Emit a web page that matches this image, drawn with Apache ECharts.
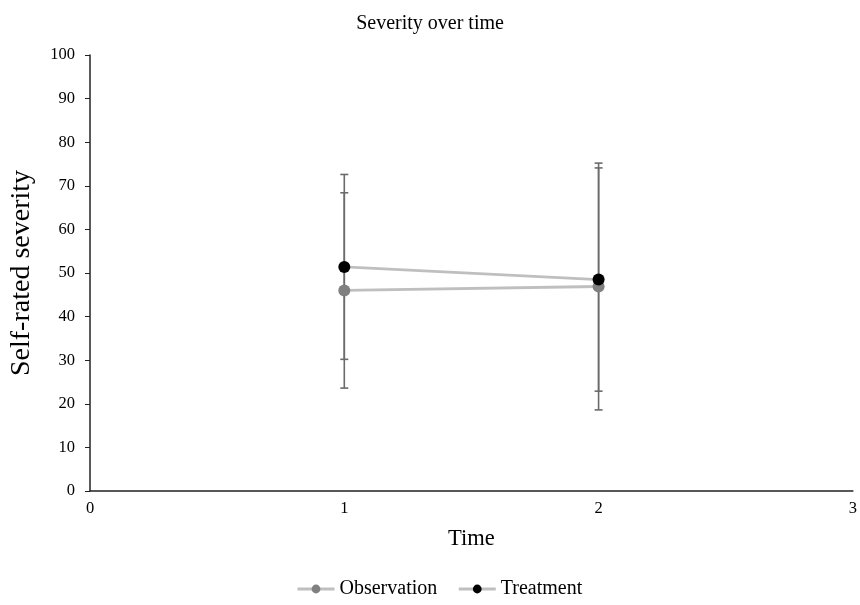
<!DOCTYPE html>
<html>
<head>
<meta charset="utf-8">
<script src="https://cdn.jsdelivr.net/npm/echarts@6/dist/echarts.min.js"></script>
<style>html,body{margin:0;padding:0;background:#fff;overflow:hidden;}#c{width:860px;height:605px;}</style>
</head>
<body>
<div id="c"></div>
<script>
var times = [1, 2];
var observation = [46.0, 46.9];
var observationErr = [22.4, 28.3];
var treatment = [51.4, 48.5];
var treatmentErr = [21.2, 25.6];
var xTicks = [0, 1, 2, 3];
var yTicks = [0, 10, 20, 30, 40, 50, 60, 70, 80, 90, 100];

var FONT = '"Liberation Serif", "Times New Roman", serif';

function errData(vals, errs) {
  return times.map(function (t, i) { return [t, vals[i] - errs[i], vals[i] + errs[i]]; });
}
function errSeries(vals, errs) {
  return {
    type: 'custom',
    silent: true,
    z: 1,
    data: errData(vals, errs),
    encode: { x: 0, y: [1, 2] },
    renderItem: function (params, api) {
      var x = api.value(0);
      var lo = api.coord([x, api.value(1)]);
      var hi = api.coord([x, api.value(2)]);
      var w = 4;
      var st = { stroke: '#6b6b6b', lineWidth: 1.6 };
      return {
        type: 'group',
        children: [
          { type: 'line', shape: { x1: lo[0], y1: lo[1], x2: hi[0], y2: hi[1] }, style: st },
          { type: 'line', shape: { x1: lo[0] - w, y1: lo[1], x2: lo[0] + w, y2: lo[1] }, style: st },
          { type: 'line', shape: { x1: hi[0] - w, y1: hi[1], x2: hi[0] + w, y2: hi[1] }, style: st }
        ]
      };
    }
  };
}

var chart = echarts.init(document.getElementById('c'), null, { renderer: 'canvas', width: 860, height: 605 });
chart.setOption({
  animation: false,
  backgroundColor: '#ffffff',
  textStyle: { fontFamily: FONT },
  title: {
    text: 'Severity over time',
    left: 'center',
    top: 9,
    textStyle: { fontFamily: FONT, fontSize: 20, fontWeight: 'normal', color: '#000' }
  },
  legend: {
    bottom: 1,
    left: 291,
    itemWidth: 37,
    itemHeight: 11,
    itemGap: 20,
    data: ['Observation', 'Treatment'],
    lineStyle: { width: 3, color: '#bfbfbf' },
    textStyle: { fontFamily: FONT, fontSize: 20, color: '#000' }
  },
  grid: { left: 89, width: 769, top: 55, height: 436, containLabel: false },
  xAxis: {
    type: 'value',
    min: xTicks[0],
    max: xTicks[xTicks.length - 1],
    interval: 1,
    name: 'Time',
    nameLocation: 'middle',
    nameGap: 37,
    nameTextStyle: { fontFamily: FONT, fontSize: 22.5, color: '#000' },
    axisLine: { lineStyle: { color: '#222', width: 1.5 } },
    axisTick: { show: false },
    splitLine: { show: false },
    axisLabel: { fontFamily: FONT, fontSize: 16.5, color: '#000', margin: 9 }
  },
  yAxis: {
    type: 'value',
    min: yTicks[0],
    max: yTicks[yTicks.length - 1],
    interval: 10,
    name: 'Self-rated severity',
    nameLocation: 'middle',
    nameGap: 54,
    nameTextStyle: { fontFamily: FONT, fontSize: 28, color: '#000' },
    axisLine: { show: true, lineStyle: { color: '#222', width: 1.5 } },
    axisTick: { show: true, length: 5, lineStyle: { color: '#222' } },
    splitLine: { show: false },
    axisLabel: { fontFamily: FONT, fontSize: 16.5, color: '#000', margin: 15 }
  },
  series: [
    errSeries(observation, observationErr),
    errSeries(treatment, treatmentErr),
    {
      name: 'Observation',
      type: 'line',
      z: 3,
      data: times.map(function (t, i) { return [t, observation[i]]; }),
      symbol: 'circle',
      symbolSize: 12,
      lineStyle: { color: '#bfbfbf', width: 2.8 },
      itemStyle: { color: '#808080' }
    },
    {
      name: 'Treatment',
      type: 'line',
      z: 4,
      data: times.map(function (t, i) { return [t, treatment[i]]; }),
      symbol: 'circle',
      symbolSize: 12,
      lineStyle: { color: '#bfbfbf', width: 2.8 },
      itemStyle: { color: '#000000' }
    }
  ]
});
</script>
</body>
</html>
